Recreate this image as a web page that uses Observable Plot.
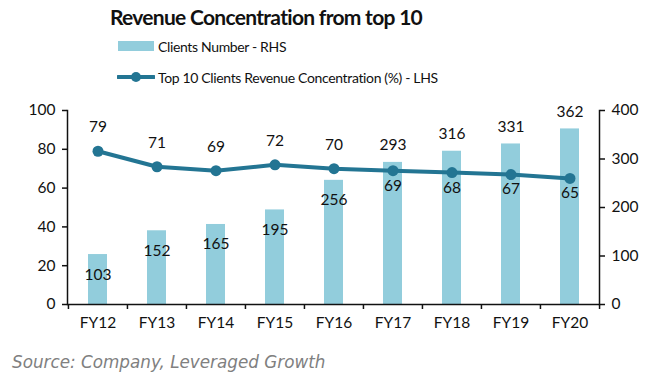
<!DOCTYPE html>
<html>
<head>
<meta charset="utf-8">
<script src="https://cdn.jsdelivr.net/npm/d3@7"></script>
<script src="https://cdn.jsdelivr.net/npm/@observablehq/plot@0.6"></script>
<style>
  html, body { margin: 0; padding: 0; background: #fff; }
  body { width: 654px; height: 378px; position: relative; overflow: hidden; font-family: Lato, "Open Sans", sans-serif; color: #111; }
  #title { position: absolute; left: 0; width: 532px; top: 3px; text-align: center; font-size: 21px; letter-spacing: -0.7px; font-weight: bold; line-height: 28px; }
  .leg { position: absolute; left: 117px; height: 20px; display: flex; align-items: center; font-size: 14px; letter-spacing: -0.35px; }
  .leg svg { margin-right: 3px; }
  #chart { position: absolute; left: 0; top: 90px; }
  #caption { position: absolute; left: 12px; top: 350px; font-family: "DejaVu Sans", sans-serif; font-size: 16.8px; font-style: italic; color: #808080; line-height: 24px; }
</style>
</head>
<body>
<div id="title">Revenue Concentration from top 10</div>
<div class="leg" id="leg1" style="top:36px"></div>
<div class="leg" id="leg2" style="top:67px"></div>
<div id="chart"></div>
<div id="caption">Source: Company, Leveraged Growth</div>
<script>
// ---- data ----
const categories = ["FY12", "FY13", "FY14", "FY15", "FY16", "FY17", "FY18", "FY19", "FY20"];
const clientsNumber = [103, 152, 165, 195, 256, 293, 316, 331, 362];
const concentration = [79, 71, 69, 72, 70, 69, 68, 67, 65];
const leftTicks = [0, 20, 40, 60, 80, 100];
const rightTicks = [0, 100, 200, 300, 400];
const seriesNames = ["Clients Number - RHS", "Top 10 Clients Revenue Concentration (%) - LHS"];

// ---- styling ----
const barColor = "#92CDDC";
const lineColor = "#237593";
const ratio = 4; // right axis / left axis
const W = 654, H = 245, mL = 67, mR = 55, mT = 20, mB = 31;
const bw = (W - mL - mR) / categories.length;

const rows = categories.map((c, i) => ({cat: c, clients: clientsNumber[i], conc: concentration[i]}));
const barBelowLine = d => d.clients / ratio < d.conc;

// legend
document.getElementById("leg1").innerHTML =
  `<svg width="38" height="20"><rect x="1" y="5" width="36" height="10" fill="${barColor}"/></svg><span>${seriesNames[0]}</span>`;
document.getElementById("leg2").innerHTML =
  `<svg width="38" height="20"><line x1="1" x2="37" y1="10" y2="10" stroke="${lineColor}" stroke-width="4" stroke-linecap="round"/><circle cx="19" cy="10" r="5" fill="${lineColor}"/></svg><span>${seriesNames[1]}</span>`;

const textStyle = {fontSize: 15.5, fill: "#111"};

const chart = Plot.plot({
  width: W, height: H,
  marginLeft: mL, marginRight: mR, marginTop: mT, marginBottom: mB,
  style: {fontFamily: "Lato, 'Open Sans', sans-serif", fontSize: "15px", color: "#111", background: "white"},
  x: {type: "band", domain: categories, padding: 0, label: null},
  y: {domain: [0, 100], label: null},
  marks: [
    Plot.barY(rows, {x: "cat", y: d => d.clients / ratio, fill: barColor, insetLeft: 20, insetRight: 20}),
    // axis lines
    Plot.ruleY([0], {stroke: "#111", strokeWidth: 1.5}),
    Plot.frame({anchor: "left", stroke: "#111", strokeWidth: 1.5}),
    Plot.frame({anchor: "right", stroke: "#111", strokeWidth: 1.5}),
    // x tick marks at category boundaries
    Plot.ruleX(rows, {x: "cat", dx: -bw / 2, y1: 0, y2: 0, insetBottom: -5, stroke: "#111", strokeWidth: 1.5}),
    Plot.ruleX(rows.slice(-1), {x: "cat", dx: bw / 2, y1: 0, y2: 0, insetBottom: -5, stroke: "#111", strokeWidth: 1.5}),
    Plot.axisY(leftTicks, {anchor: "left", tickSize: 5, tickPadding: 7, label: null, fontSize: 15.5, stroke: "#111", strokeWidth: 1.5}),
    Plot.axisY(rightTicks.map(v => v / ratio), {anchor: "right", tickSize: 5, tickPadding: 7, tickFormat: d => d * ratio, label: null, fontSize: 15.5, stroke: "#111", strokeWidth: 1.5}),
    Plot.axisX({tickSize: 0, tickPadding: 12, label: null, fontSize: 15.5}),
    // line series
    Plot.line(rows, {x: "cat", y: "conc", stroke: lineColor, strokeWidth: 4}),
    Plot.dot(rows, {x: "cat", y: "conc", fill: lineColor, r: 5.5}),
    // bar labels
    Plot.text(rows.filter(barBelowLine), {x: "cat", y: d => d.clients / ratio, text: d => String(d.clients), dy: 20, ...textStyle}),
    Plot.text(rows.filter(d => !barBelowLine(d)), {x: "cat", y: d => d.clients / ratio, text: d => String(d.clients), dy: -17, ...textStyle}),
    // line labels
    Plot.text(rows.filter(barBelowLine), {x: "cat", y: "conc", text: d => String(d.conc), dy: -24, ...textStyle}),
    Plot.text(rows.filter(d => !barBelowLine(d)), {x: "cat", y: "conc", text: d => String(d.conc), dy: 15, ...textStyle})
  ]
});
document.getElementById("chart").appendChild(chart);
</script>
</body>
</html>
